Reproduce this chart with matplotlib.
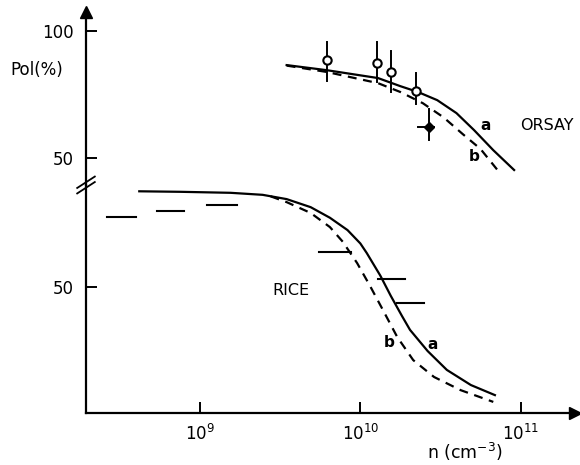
import matplotlib
matplotlib.use("Agg")
import matplotlib.pyplot as plt
import numpy as np

# ORSAY (upper panel): curves a (solid) and b (dashed), log10(n) vs Pol (%)
orsay_a_logn = [9.54, 9.79, 10.11, 10.25, 10.36, 10.48, 10.60, 10.71, 10.83, 10.96]
orsay_a_pol = [86.6, 84.6, 81.5, 78.3, 76.0, 72.8, 67.7, 61.0, 53.1, 45.3]
orsay_b_logn = [9.54, 9.79, 10.11, 10.25, 10.39, 10.52, 10.64, 10.75, 10.86]
orsay_b_pol = [86.4, 83.9, 79.5, 76.0, 71.6, 66.0, 59.4, 53.6, 45.0]

# ORSAY measurements (open circles) with vertical error bars
orsay_pts_logn = [9.79, 10.106, 10.19, 10.35]
orsay_pts_pol = [88.6, 87.4, 83.9, 76.4]
orsay_pts_hi = [95.7, 95.7, 92.1, 83.5]
orsay_pts_lo = [80.3, 79.9, 76.0, 71.3]
# filled point with cross bars
orsay_fill_logn = 10.43
orsay_fill_pol = 62.2
orsay_fill_pol_range = [57.1, 69.3]
orsay_fill_logn_range = [10.36, 10.46]

# RICE (lower panel)
rice_a_logn = [8.62, 8.875, 9.19, 9.39, 9.54, 9.69, 9.81, 9.92, 10.00, 10.04, 10.125,
               10.19, 10.26, 10.31, 10.42, 10.54, 10.69, 10.84]
rice_a_pol = [88.0, 87.8, 87.4, 86.6, 84.9, 81.7, 77.5, 72.6, 67.3, 63.5, 54.5,
              46.5, 38.5, 33.0, 24.6, 17.1, 11.1, 7.1]
rice_b_logn = [9.44, 9.54, 9.69, 9.81, 9.89, 9.98, 10.06, 10.14, 10.23, 10.33, 10.46,
               10.625, 10.83]
rice_b_pol = [86.0, 83.7, 79.4, 73.8, 68.0, 59.5, 50.5, 41.0, 30.2, 21.0, 14.3, 9.1, 4.4]

# RICE measurements: horizontal bars (n range, Pol)
rice_bar_lo = [8.42, 8.73, 9.04, 9.74, 10.11, 10.23]
rice_bar_hi = [8.60, 8.90, 9.23, 9.94, 10.28, 10.40]
rice_bar_pol = [77.8, 80.2, 82.5, 63.9, 53.2, 43.7]

xticks = [1e9, 1e10, 1e11]
xticklabels = ["$10^{9}$", "$10^{10}$", "$10^{11}$"]

plt.rcParams["font.family"] = ["DejaVu Sans"]
fig = plt.figure(figsize=(5.8, 4.65), dpi=100)

W, H = 580.0, 465.0
x0, x1 = 86, 575
y_axis, y_break, y_top = 413, 185, 12

ax_bot = fig.add_axes([x0 / W, (H - y_axis) / H, (x1 - x0) / W, (y_axis - y_break) / H])
ax_top = fig.add_axes([x0 / W, (H - y_break) / H, (x1 - x0) / W, (y_break - y_top) / H])

xlim = (10 ** 8.2875, 10 ** 11.34)
for ax in (ax_bot, ax_top):
    ax.set_xscale("log")
    ax.set_xlim(*xlim)
    ax.patch.set_visible(False)
    for s in ["top", "right"]:
        ax.spines[s].set_visible(False)
    ax.spines["left"].set_linewidth(1.6)
    ax.minorticks_off()
    ax.tick_params(axis="y", direction="in", length=8, width=1.4, pad=9, labelsize=12)

ax_bot.set_ylim(0, 90.5)
ax_top.set_ylim(39.4, 107.5)
ax_top.spines["bottom"].set_visible(False)
ax_top.set_xticks([])
ax_bot.spines["bottom"].set_linewidth(1.6)

ax_top.set_yticks([50, 100])
ax_top.set_yticklabels(["50", "100"])
ax_bot.set_yticks([50])
ax_bot.set_yticklabels(["50"])
ax_bot.set_xticks(xticks)
ax_bot.set_xticklabels(xticklabels)
ax_bot.tick_params(axis="x", direction="in", length=8, width=1.4, pad=8, labelsize=12)

lw = 1.6
# ORSAY curves
ax_top.plot(10 ** np.array(orsay_a_logn), orsay_a_pol, color="black", lw=lw)
ax_top.plot(10 ** np.array(orsay_b_logn), orsay_b_pol, color="black", lw=lw, ls=(0, (4, 3)))
for xn, yp, hi, lo in zip(orsay_pts_logn, orsay_pts_pol, orsay_pts_hi, orsay_pts_lo):
    ax_top.plot([10 ** xn, 10 ** xn], [lo, hi], color="black", lw=1.4)
    ax_top.plot(10 ** xn, yp, "o", mfc="white", mec="black", mew=1.5, ms=6)
ax_top.plot([10 ** orsay_fill_logn] * 2, orsay_fill_pol_range, color="black", lw=1.4)
ax_top.plot(10 ** np.array(orsay_fill_logn_range), [orsay_fill_pol] * 2, color="black", lw=1.4)
ax_top.plot(10 ** orsay_fill_logn, orsay_fill_pol, "D", color="black", ms=5)

# RICE curves
ax_bot.plot(10 ** np.array(rice_a_logn), rice_a_pol, color="black", lw=lw)
ax_bot.plot(10 ** np.array(rice_b_logn), rice_b_pol, color="black", lw=lw, ls=(0, (4, 3)))
for lo, hi, yp in zip(rice_bar_lo, rice_bar_hi, rice_bar_pol):
    ax_bot.plot([10 ** lo, 10 ** hi], [yp, yp], color="black", lw=1.5)

# labels
txt = dict(fontsize=11, color="black", fontweight="bold")
ax_top.text(10 ** 10.78, 63, "a", ha="center", va="center", **txt)
ax_top.text(10 ** 10.71, 50.5, "b", ha="center", va="center", **txt)
ax_top.text(10 ** 11.0, 63, "ORSAY", ha="left", va="center", fontsize=11.5)
ax_bot.text(10 ** 9.45, 48.8, "RICE", ha="left", va="center", fontsize=11.5)
ax_bot.text(10 ** 10.45, 27.3, "a", ha="center", va="center", **txt)
ax_bot.text(10 ** 10.18, 27.8, "b", ha="center", va="center", **txt)

fig.text(10 / W, 1 - 70 / H, "Pol(%)", ha="left", va="center", fontsize=12)
fig.text(465 / W, 1 - 452 / H, "n (cm$^{-3}$)", ha="center", va="center", fontsize=12.5)

# axis arrows
ax_top.plot(0, 1, marker="^", color="black", ms=8, transform=ax_top.transAxes, clip_on=False)
ax_bot.plot(1, 0, marker=">", color="black", ms=8, transform=ax_bot.transAxes, clip_on=False)

# break marks on the y axis
for dy in (-0.012, 0.012):
    ax_bot.plot([-0.018, 0.018], [1 + dy - 0.025, 1 + dy + 0.025], color="black", lw=1.3,
                transform=ax_bot.transAxes, clip_on=False)

fig.savefig("out.png", dpi=100)
